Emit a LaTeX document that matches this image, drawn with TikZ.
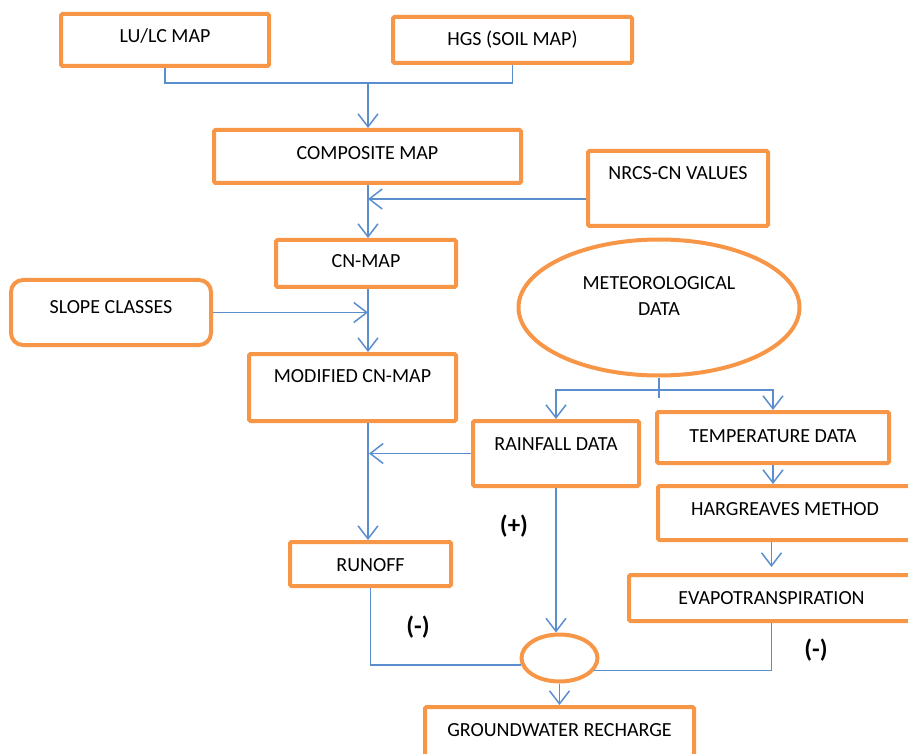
\documentclass[tikz,border=0pt]{standalone}
\usepackage{fontspec}
\setmainfont{Carlito}
\usetikzlibrary{arrows.meta,shapes.geometric}
\definecolor{boxorange}{RGB}{247,150,70}
\definecolor{flowblue}{RGB}{91,142,206}
\newcommand\boxfont{\fontsize{20}{26}\selectfont}
\newcommand\signfont{\fontsize{25}{30}\selectfont\bfseries}
\tikzset{
  box/.style={draw=boxorange,line width=4pt,inner sep=0pt,rounded corners=1.5pt,font=\boxfont},
  tb/.style 2 args={text height=#1pt,text depth=#2pt},
  oval/.style={ellipse,draw=boxorange,line width=4pt,inner sep=0pt},
  flow/.style={draw=flowblue,line width=1.5pt},
  sign/.style={font=\signfont,inner sep=0pt}}

\begin{document}
\begin{tikzpicture}[x=1pt,y=-1pt,>={Straight Barb[length=13pt,width=20pt]}]
\useasboundingbox (0,0) rectangle (908,754);
\clip (0,0) rectangle (908,754);
\node[box,tb={29}{23},minimum width=208pt] (lulc) at (165,40) {LU/LC MAP};
\node[box,tb={28.5}{17.5},minimum width=239pt] (hgs) at (512.5,40) {HGS (SOIL MAP)};
\node[box,tb={29.5}{23.5},minimum width=307pt] (comp) at (367.5,156.5) {COMPOSITE MAP};
\node[box,tb={29}{46},minimum width=180pt] (nrcs) at (678,188.5) {NRCS-CN VALUES};
\node[box,tb={28}{19},minimum width=180pt] (cnmap) at (366,263.5) {CN-MAP};
\node[box,tb={33}{32},minimum width=200pt,rounded corners=12pt] (slope) at (111,312.5) {SLOPE CLASSES};
\node[box,tb={28}{39},minimum width=207pt] (modcn) at (352.5,387.5) {MODIFIED CN-MAP};
\node[oval,minimum width=281pt,minimum height=136pt] (meteo) at (659,307.5) {};
\node[align=center,font=\boxfont,inner sep=0pt] (meteotxt) at (659,296.5) {METEOROLOGICAL\\DATA};
\node[box,tb={29}{36},minimum width=166pt] (rain) at (556,453.5) {RAINFALL DATA};
\node[box,tb={30}{21},minimum width=232pt] (temp) at (773,437.5) {TEMPERATURE DATA};
\node[box,tb={29}{25},minimum width=254pt] (harg) at (785,513) {HARGREAVES METHOD};
\node[box,tb={29}{17},minimum width=285pt] (evapo) at (771.5,598) {EVAPOTRANSPIRATION};
\node[box,tb={29}{15},minimum width=161pt] (runoff) at (370.5,564) {RUNOFF};
\node[oval,minimum width=76pt,minimum height=47pt] (sum) at (559.5,658) {};
\node[box,tb={29.5}{33.5},minimum width=269pt] (gw) at (559.5,738.5) {GROUNDWATER RECHARGE};
\node[sign] (plus) at (514,526.5) {(+)};
\node[sign] (minusrun) at (418,627.5) {(-)};
\node[sign] (minusevap) at (816,650.5) {(-)};
\coordinate (trunk) at (368,0);
\coordinate (jtop) at (368,83);
\coordinate (jnrcs) at (368,199);
\coordinate (jslope) at (368,312.5);
\coordinate (jrain) at (369,453.5);
\coordinate (jmet) at (659,390);
\draw[flow] (lulc.south) |- (jtop) -| (hgs.south);
\draw[flow,->] (jtop) -- (comp.north -| trunk);
\draw[flow,->] (comp.south -| trunk) -- (cnmap.north -| trunk);
\draw[flow,->] (nrcs.west |- jnrcs) -- (jnrcs);
\draw[flow,->] (cnmap.south -| trunk) -- (modcn.north -| trunk);
\draw[flow,->] (slope.east) -- (jslope);
\draw[flow,->] (modcn.south -| trunk) -- (runoff.north -| trunk);
\draw[flow,->] (rain.west) -- (jrain);
\draw[flow] (meteo.south) -- ++(0,20);
\draw[flow,->] (jmet) -| (rain.north);
\draw[flow,->] (jmet) -| (temp.north);
\draw[flow,->] (temp.south) -- (temp.south |- harg.north);
\draw[flow,->,shorten >=6pt] (harg.south -| evapo.north) -- (evapo.north);
\draw[flow,->] (rain.south) -- (rain.south |- sum.north);
\draw[flow] (runoff.south) |- (sum.190);
\draw[flow] (evapo.south) |- (sum.340);
\draw[flow,->] (sum.south) -- (gw.north);
\end{tikzpicture}
\end{document}
